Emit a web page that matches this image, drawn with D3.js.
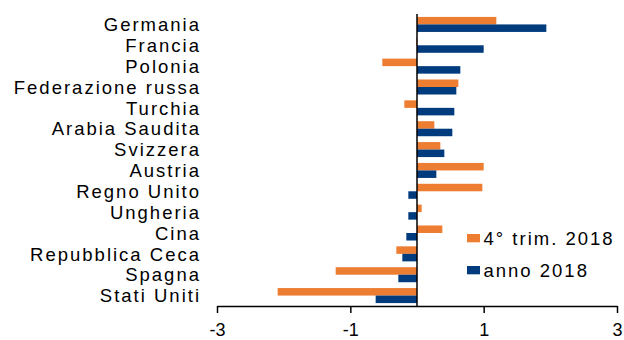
<!DOCTYPE html>
<html><head><meta charset="utf-8">
<script src="https://cdn.jsdelivr.net/npm/d3@7"></script>
<style>html,body{margin:0;padding:0;background:#fff;}svg{display:block;}</style>
</head><body>
<script>
const categories = ["Germania","Francia","Polonia","Federazione russa","Turchia","Arabia Saudita","Svizzera","Austria","Regno Unito","Ungheria","Cina","Repubblica Ceca","Spagna","Stati Uniti"];
const q4_2018 = [1.19, -0.01, -0.52, 0.62, -0.19, 0.26, 0.35, 1.00, 0.98, 0.07, 0.38, -0.31, -1.22, -2.09];
const year_2018 = [1.94, 1.00, 0.65, 0.59, 0.56, 0.53, 0.41, 0.29, -0.13, -0.13, -0.16, -0.22, -0.28, -0.62];
const seriesNames = ["4° trim. 2018", "anno 2018"];
const seriesColors = ["#ED7D31", "#003B7D"];
const xTicks = [-3, -1, 1, 3];

const W = 624, H = 340;
const svg = d3.select("body").append("svg").attr("width", W).attr("height", H);
const font = "'Liberation Sans', Arial, sans-serif";

const x = d3.scaleLinear().domain([-3, 3]).range([217, 617]);
const y = d3.scaleBand().domain(categories).range([14, 306]).paddingInner(0.28).paddingOuter(0.14);
const sub = d3.scaleBand().domain([0, 1]).range([0, y.bandwidth()]);

const data = categories.map((c, i) => ({c, vals: [q4_2018[i], year_2018[i]]}));

const g = svg.append("g");
g.selectAll("g.row").data(data).join("g").attr("class", "row")
  .attr("transform", d => `translate(0,${y(d.c)})`)
  .selectAll("rect").data(d => d.vals.map((v, k) => ({v, k})))
  .join("rect")
  .attr("x", d => x(Math.min(0, d.v)))
  .attr("width", d => Math.abs(x(d.v) - x(0)))
  .attr("y", d => sub(d.k))
  .attr("height", sub.bandwidth())
  .attr("fill", d => seriesColors[d.k]);

// zero line
svg.append("line").attr("x1", x(0)).attr("x2", x(0)).attr("y1", 14).attr("y2", 306)
  .attr("stroke", "#000").attr("stroke-width", 1.5);

// x axis
const xAxis = d3.axisBottom(x).tickValues(xTicks).tickSize(7).tickSizeOuter(0).tickFormat(d3.format("d"));
const ax = svg.append("g").attr("transform", "translate(0,306)").call(xAxis);
ax.select(".domain").attr("stroke", "#000").attr("stroke-width", 1.5);
ax.selectAll(".tick line").attr("stroke", "#000").attr("stroke-width", 1.5);
ax.selectAll(".tick text").attr("font-family", font).attr("font-size", 18).attr("fill", "#000")
  .attr("y", 30).attr("dy", 0).text(d => d < 0 ? "-" + Math.abs(d) : d);

// category labels
svg.append("g").selectAll("text").data(categories).join("text")
  .attr("x", 201).attr("y", d => y(d) + y.bandwidth() / 2)
  .attr("dy", "0.36em").attr("text-anchor", "end")
  .attr("font-family", font).attr("font-size", 18.5).attr("letter-spacing", 2)
  .attr("fill", "#000").text(d => d);

// legend
const leg = svg.append("g").selectAll("g").data(seriesNames).join("g")
  .attr("transform", (d, i) => `translate(467,${234 + i * 32})`);
leg.append("rect").attr("width", 13).attr("height", 8.3).attr("fill", (d, i) => seriesColors[i]);
leg.append("text").attr("x", 16.5).attr("y", 10.5)
  .attr("font-family", font).attr("font-size", 18.5).attr("letter-spacing", 2)
  .attr("fill", "#000").text(d => d);
</script>
</body></html>
